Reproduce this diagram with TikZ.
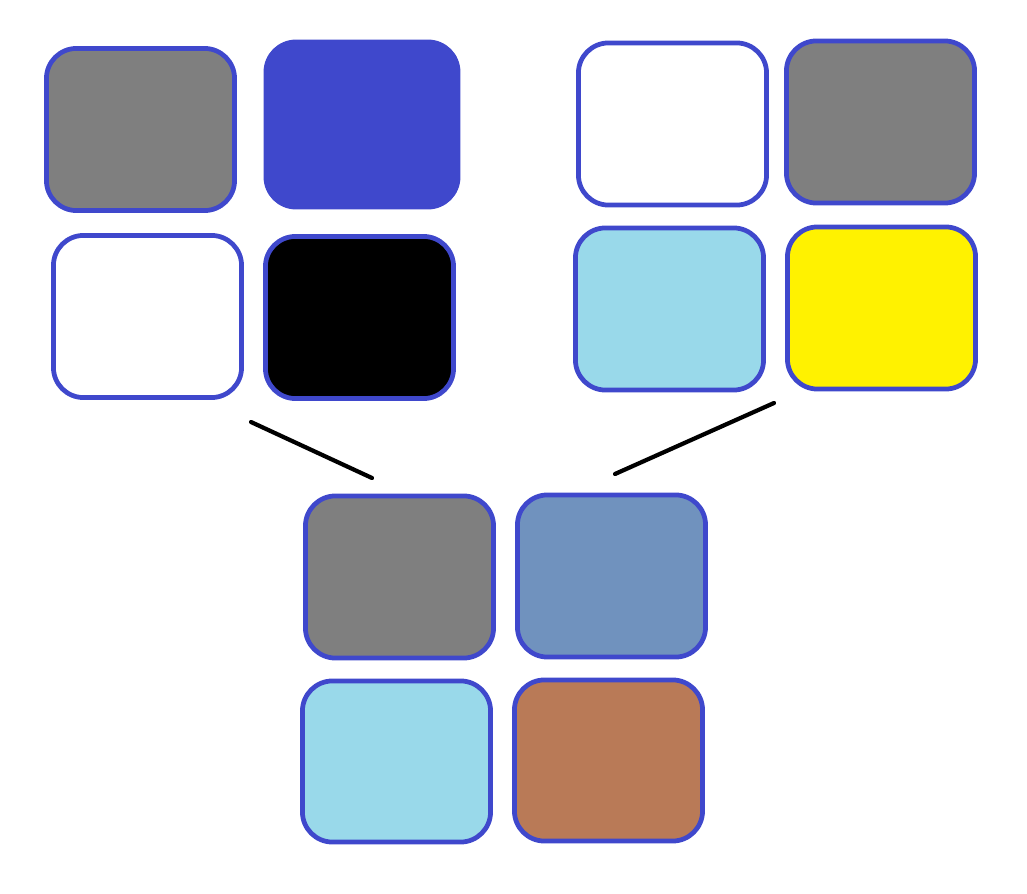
\documentclass[tikz,border=0pt]{standalone}
\usepackage{tikz}
\usetikzlibrary{calc}

\definecolor{edgeblue}{HTML}{3F48CC}
\definecolor{midgray}{HTML}{7F7F7F}
\definecolor{paleblue}{HTML}{99D9EA}
\definecolor{brightyellow}{HTML}{FFF200}
\definecolor{steelblue}{HTML}{7092BE}
\definecolor{clay}{HTML}{B97A57}

\tikzset{
  tile/.style={draw=edgeblue, line width=1.35pt, rounded corners=0.3cm,
    minimum width=1.88cm, minimum height=1.62cm, inner sep=0pt},
  link/.style={line width=1.2pt, line cap=round}
}

\begin{document}
\begin{tikzpicture}[x=0.01cm,y=-0.01cm]

\useasboundingbox (0,0) rectangle (1027,894);

\node[tile, fill=midgray] (a1) at (140.5,129.5) {};
\node[tile, fill=edgeblue, minimum width=1.92cm, minimum height=1.65cm] (a2) at (362,124.5) {};
\node[tile, fill=white] (a3) at (147.5,316.5) {};
\node[tile, fill=black] (a4) at (359.5,317.5) {};

\node[tile, fill=white] (b1) at (672.5,124) {};
\node[tile, fill=midgray] (b2) at (880.5,122) {};
\node[tile, fill=paleblue] (b3) at (669.5,309) {};
\node[tile, fill=brightyellow] (b4) at (881.5,308) {};

\node[tile, fill=midgray] (c1) at (399.5,577) {};
\node[tile, fill=steelblue] (c2) at (611.5,576) {};
\node[tile, fill=paleblue, minimum height=1.61cm] (c3) at (396.5,761.5) {};
\node[tile, fill=clay, minimum height=1.61cm] (c4) at (608.5,760.5) {};

\coordinate (la) at (251,422);
\coordinate (lb) at (372,478);
\coordinate (ra) at (774,403);
\coordinate (rb) at (615,474);

\draw[link] (la) -- (lb);
\draw[link] (ra) -- (rb);

\end{tikzpicture}
\end{document}
